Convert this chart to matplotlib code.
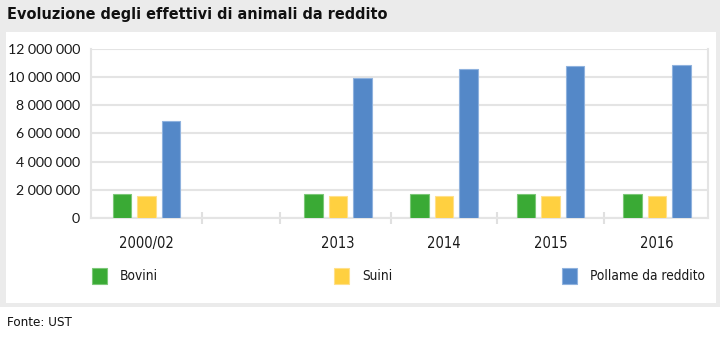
import matplotlib
matplotlib.use("Agg")
import matplotlib.pyplot as plt
from matplotlib import font_manager
from matplotlib.patches import Rectangle
from matplotlib.ticker import FuncFormatter, FixedLocator

# Effettivi di animali da reddito
periodi = ["2000/02", "2013", "2014", "2015", "2016"]
bovini = [1_680_000, 1_680_000, 1_680_000, 1_680_000, 1_680_000]
suini = [1_580_000, 1_580_000, 1_580_000, 1_580_000, 1_580_000]
pollame = [6_900_000, 9_950_000, 10_570_000, 10_780_000, 10_880_000]
serie = ["Bovini", "Suini", "Pollame da reddito"]

colori = ["#3aaa35", "#ffd040", "#5488c8"]
bordi = ["#7cc878", "#ffe08a", "#8fb2de"]

# posizioni sull'asse x (tra 2000/02 e 2013 resta uno spazio vuoto)
pos = [0, 1.8, 2.8, 3.8, 4.8]
separatori = [0.52, 1.26, 2.3, 3.3, 4.3]

# carattere stretto, se ce n'e' uno installato
stretto = None
for f in font_manager.fontManager.ttflist:
    nome = f.name.lower()
    if "narrow" in nome or "condensed" in nome:
        stretto = dict(family=f.name)
        break
    if f.stretch in ("condensed", "semi-condensed") and f.name in ("DejaVu Sans", "Liberation Sans", "Noto Sans"):
        stretto = dict(family=f.name, fontstretch=f.stretch)
        break
if stretto is None:
    stretto = dict(family="Liberation Sans")
    scala = 0.9
else:
    scala = 1.0

W, H = 720, 339

fig = plt.figure(figsize=(W / 100, H / 100), dpi=100)
fig.patch.set_facecolor("white")

# sfondo grigio e riquadro bianco
fig.add_artist(Rectangle((0, (H - 307) / H), 1, 307 / H, transform=fig.transFigure,
                         facecolor="#ebebeb", edgecolor="none", zorder=0))
fig.add_artist(Rectangle((6 / W, (H - 303) / H), 710 / W, 271 / H, transform=fig.transFigure,
                         facecolor="white", edgecolor="none", zorder=0))

fig.text(7 / W, 1 - 15 / H, "Evoluzione degli effettivi di animali da reddito",
         fontweight="bold", fontsize=11.6 * scala, va="center", ha="left", color="#111111", **stretto)
fig.text(7 / W, 1 - 323 / H, "Fonte: UST", fontsize=9.6 * scala,
         va="center", ha="left", color="#111111", **stretto)

ax = fig.add_axes([91 / W, (H - 217.7) / H, 617 / W, 168.5 / H])
ax.set_facecolor("white")

w = 0.174
passo = 0.23
for i, valori in enumerate([bovini, suini, pollame]):
    xs = [p + (i - 1) * passo for p in pos]
    ax.bar(xs, valori, width=w, color=colori[i], edgecolor=bordi[i], linewidth=0.8, zorder=3)

ax.set_xlim(-0.52, 5.28)
ax.set_ylim(0, 12_000_000)
ax.set_yticks(range(0, 12_000_001, 2_000_000))
ax.yaxis.set_major_formatter(FuncFormatter(lambda v, _: f"{int(v):,}".replace(",", " ")))
ax.grid(axis="y", color="#e4e4e4", linewidth=1.5, zorder=0)
ax.tick_params(axis="y", length=0, pad=8, labelsize=10.2, labelcolor="#1a1a1a")
for lab in ax.get_yticklabels():
    lab.set_family(["Lato", "DejaVu Sans"])

ax.xaxis.set_major_locator(FixedLocator(separatori))
ax.xaxis.set_major_formatter(FuncFormatter(lambda v, _: ""))
ax.xaxis.set_minor_locator(FixedLocator(pos))
ax.set_xticklabels(periodi, minor=True)
ax.tick_params(axis="x", which="major", direction="inout", length=8, width=1.5, color="#e0e0e0")
ax.tick_params(axis="x", which="minor", length=0, pad=13, labelsize=10.5 * scala, labelcolor="#1a1a1a")
for lab in ax.get_xticklabels(minor=True):
    lab.set_family(stretto["family"])
    if "fontstretch" in stretto:
        lab.set_fontstretch(stretto["fontstretch"])

for lato in ["left", "right", "bottom"]:
    ax.spines[lato].set_color("#e4e4e4")
    ax.spines[lato].set_linewidth(1.5)
ax.spines["top"].set_visible(False)

# legenda
leg_x = [92, 334, 562]
for nome, c, b, x in zip(serie, colori, bordi, leg_x):
    fig.add_artist(Rectangle((x / W, (H - 284) / H), 15 / W, 16 / H, transform=fig.transFigure,
                             facecolor=c, edgecolor=b, linewidth=0.8))
    fig.text((x + 28) / W, 1 - 276 / H, nome, fontsize=9.8 * scala,
             va="center", ha="left", color="#1a1a1a", **stretto)

fig.savefig("out.png", dpi=100)
